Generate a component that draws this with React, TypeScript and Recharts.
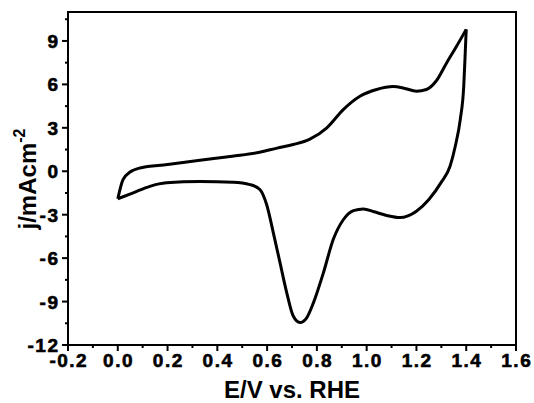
import React from 'react';
import { LineChart, Line, XAxis, YAxis, ReferenceArea, Label } from 'recharts';

// Anodic (forward) scan: potential E (V vs RHE) and current density j (mA cm^-2)
const anodicE = [0.0, 0.021, 0.048, 0.09, 0.2, 0.33, 0.46, 0.57, 0.64, 0.705, 0.77, 0.84, 0.906, 0.973, 1.04, 1.107, 1.15, 1.2, 1.24, 1.28, 1.32, 1.36, 1.4];
const anodicJ = [-1.9, -0.57, -0.07, 0.23, 0.46, 0.76, 1.04, 1.31, 1.6, 1.85, 2.2, 3.0, 4.26, 5.18, 5.65, 5.85, 5.74, 5.53, 5.65, 6.25, 7.45, 8.6, 9.8];

// Cathodic (reverse) scan, listed in increasing E
const cathodicE = [0.0, 0.062, 0.129, 0.196, 0.33, 0.464, 0.531, 0.571, 0.598, 0.625, 0.652, 0.679, 0.705, 0.732, 0.759, 0.786, 0.826, 0.866, 0.906, 0.947, 0.987, 1.03, 1.08, 1.134, 1.2, 1.25, 1.3, 1.335, 1.356, 1.376, 1.39, 1.396, 1.4];
const cathodicJ = [-1.9, -1.49, -1.04, -0.8, -0.71, -0.76, -0.92, -1.26, -2.3, -4.25, -6.33, -8.4, -10.0, -10.45, -10.12, -9.09, -7.02, -4.7, -3.35, -2.72, -2.6, -2.8, -3.05, -3.2, -2.76, -1.95, -0.75, 0.35, 1.73, 3.57, 5.87, 8.18, 9.8];

const xMajorTicks = [-0.2, 0.0, 0.2, 0.4, 0.6, 0.8, 1.0, 1.2, 1.4, 1.6];
const xMinorTicks = [-0.1, 0.1, 0.3, 0.5, 0.7, 0.9, 1.1, 1.3, 1.5];
const yMajorTicks = [-12, -9, -6, -3, 0, 3, 6, 9];
const yMinorTicks = [-10.5, -7.5, -4.5, -1.5, 1.5, 4.5, 7.5, 10.5];

const xDomain = [-0.2, 1.6];
const yDomain = [-12, 11];

const anodicData = anodicE.map((e, i) => ({ e, j: anodicJ[i] }));
const cathodicData = cathodicE.map((e, i) => ({ e, j: cathodicJ[i] }));

const allXTicks = [...xMajorTicks, ...xMinorTicks].sort((a, b) => a - b);
const allYTicks = [...yMajorTicks, ...yMinorTicks].sort((a, b) => a - b);

const FONT = '"Liberation Sans", Arial, Helvetica, sans-serif';
const boldStyle = { fontWeight: 700, fontFamily: FONT } as React.CSSProperties;

const isIn = (arr: number[], v: number) => arr.some((t) => Math.abs(t - v) < 1e-6);

const XTick = (props: any) => {
  const { x, y, payload } = props;
  const v = payload.value as number;
  const major = isIn(xMajorTicks, v);
  return (
    <g>
      <line x1={x} x2={x} y1={y} y2={y + (major ? 6 : 3)} stroke="#000" strokeWidth={2} />
      {major && (
        <text x={x + 0.75} y={y + 22} textAnchor="middle" style={boldStyle} fontSize={19} letterSpacing={1.5} fill="#000" stroke="#000" strokeWidth={0.6}>
          {v.toFixed(1)}
        </text>
      )}
    </g>
  );
};

const YTick = (props: any) => {
  const { x, y, payload } = props;
  const v = payload.value as number;
  const major = isIn(yMajorTicks, v);
  return (
    <g>
      <line x1={x} x2={x - (major ? 6 : 3)} y1={y} y2={y} stroke="#000" strokeWidth={2} />
      {major && (
        <text x={x - 8.5} y={y + 7} textAnchor="end" style={boldStyle} fontSize={19} letterSpacing={1.5} fill="#000" stroke="#000" strokeWidth={0.6}>
          {String(v)}
        </text>
      )}
    </g>
  );
};

const XTitle = () => (
  <text x={292} y={398} textAnchor="middle" style={boldStyle} fontSize={24} fill="#000">
    E/V vs. RHE
  </text>
);

const YTitle = () => (
  <text x={36} y={179} transform="rotate(-90 36 179)" textAnchor="middle" style={boldStyle} fontSize={24} fill="#000">
    j/mAcm
    <tspan dy={-11} fontSize={16}>-2</tspan>
  </text>
);

export default function App() {
  return (
    <div style={{ position: 'absolute', left: 0, top: 0, width: 534, height: 403, background: '#fff' }}>
      <LineChart width={534} height={403} margin={{ top: 12, right: 18, bottom: 0, left: 0 }}>
        <XAxis
          dataKey="e"
          type="number"
          domain={xDomain}
          ticks={allXTicks}
          interval={0}
          allowDataOverflow
          height={58}
          tickSize={0}
          tickMargin={0}
          tickLine={false}
          tick={XTick}
          axisLine={{ stroke: '#000', strokeWidth: 2 }}
        >
          <Label content={XTitle} />
        </XAxis>
        <YAxis
          dataKey="j"
          type="number"
          domain={yDomain}
          ticks={allYTicks}
          interval={0}
          allowDataOverflow
          width={68}
          tickSize={0}
          tickMargin={0}
          tickLine={false}
          tick={YTick}
          axisLine={{ stroke: '#000', strokeWidth: 2 }}
        >
          <Label content={YTitle} />
        </YAxis>
        <ReferenceArea x1={xDomain[0]} x2={xDomain[1]} y1={yDomain[0]} y2={yDomain[1]} fill="none" fillOpacity={0} stroke="#000" strokeWidth={2} />
        <Line data={anodicData} dataKey="j" type="monotone" stroke="#000" strokeWidth={3} dot={false} isAnimationActive={false} />
        <Line data={cathodicData} dataKey="j" type="monotone" stroke="#000" strokeWidth={3} dot={false} isAnimationActive={false} />
      </LineChart>
    </div>
  );
}
